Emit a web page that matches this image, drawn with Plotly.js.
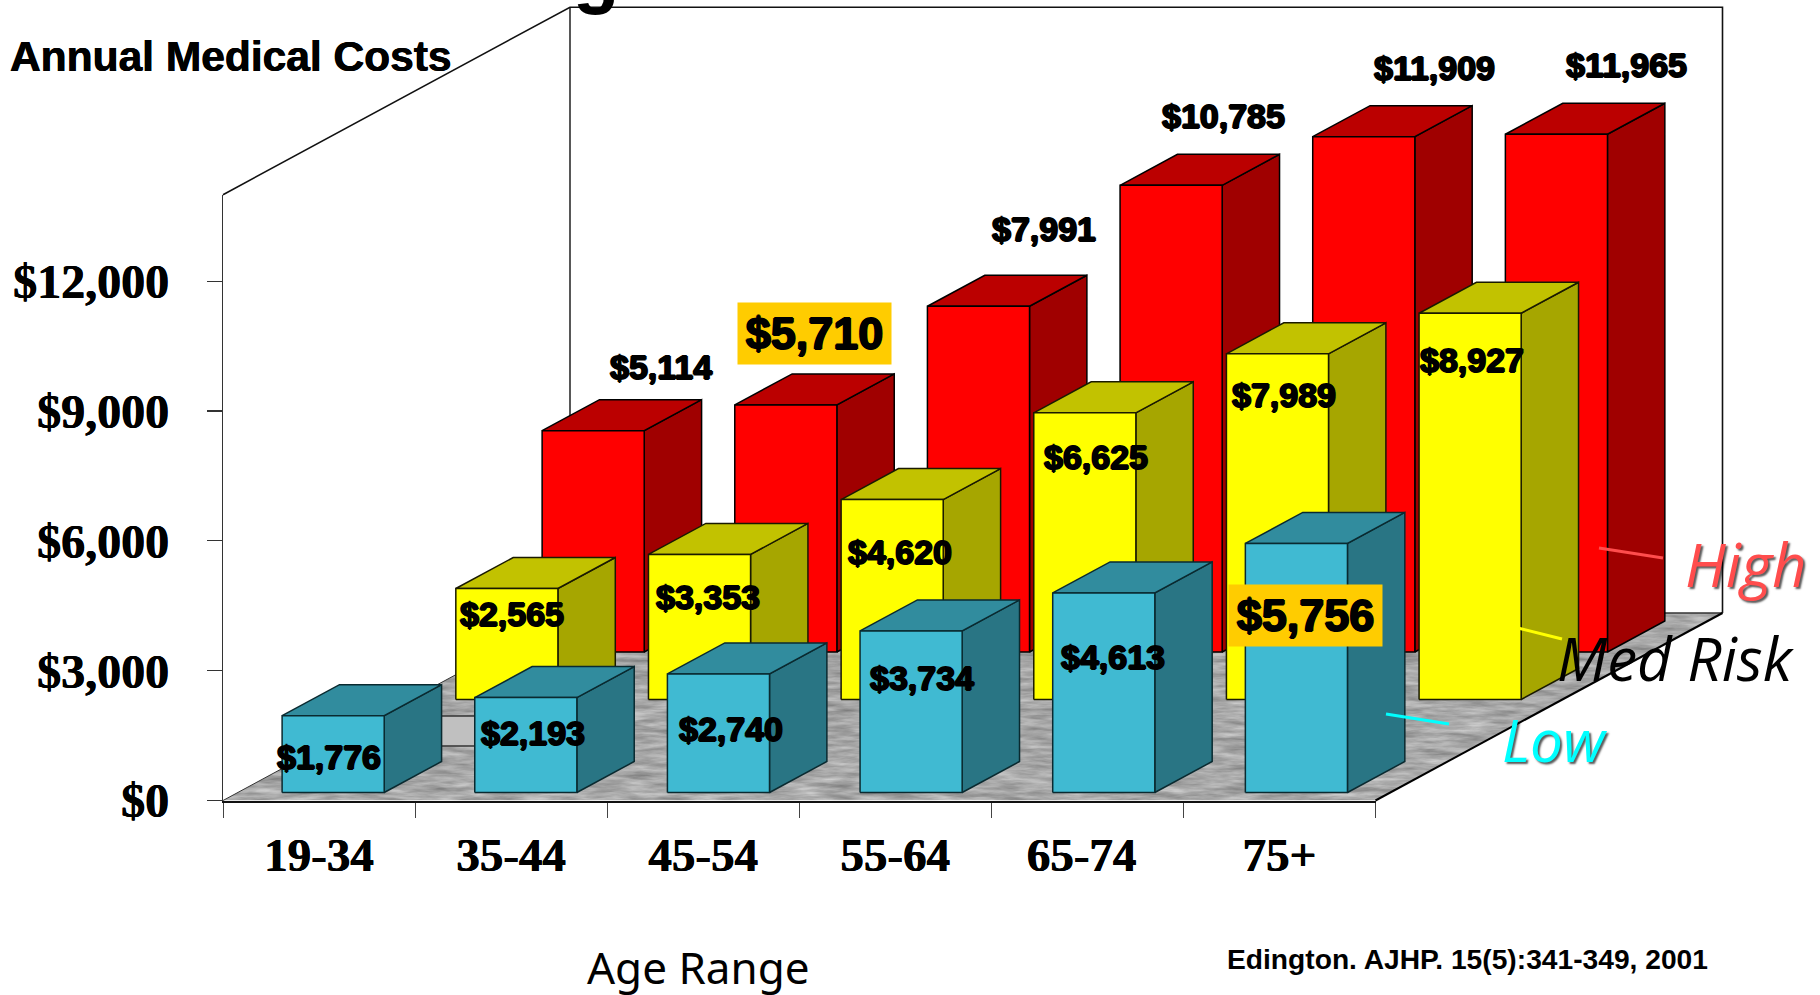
<!DOCTYPE html>
<html>
<head>
<meta charset="utf-8">
<script src="https://cdn.plot.ly/plotly-3.0.1.min.js"></script>
<style>html,body{margin:0;padding:0;background:#fff}#chart{width:1820px;height:995px}</style>
</head>
<body>
<div id="chart"></div>
<script>
// Annual medical costs by age range and health risk level
var categories = ['19-34', '35-44', '45-54', '55-64', '65-74', '75+'];
var lowRisk = [1776, 2193, 2740, 3734, 4613, 5756];
var medRisk = [2565, 3353, 4620, 6625, 7989, 8927];
var highRisk = [5114, 5710, 7991, 10785, 11909, 11965];
var yTicks = [0, 3000, 6000, 9000, 12000];

// Frame of the front of the chart on the page
var W = 1820, H = 995;
var left = 223, right = 1375.5, bottom = 800.5, top_ = 194.7;
var yMax = 14000;
var catPx = (right - left) / categories.length;
var valPx = (bottom - top_) / yMax;

// Oblique projection: depth 0 is the front of the floor, depth 1 the back wall
var depthPxX = 347;
var depthX = depthPxX / catPx;
var depthY = 187.5 / valPx;
function project(x, v, d) { return [x + d * depthX, v + d * depthY]; }

// Page pixel to axis units on the full-page axes that carry the marks
function unitX(px) { return (px - left) / catPx; }
function unitY(py) { return (bottom - py) / valPx; }

var barStart = 44.3 / catPx;
var barPitch = 192.65 / catPx;
var barWidth = 102.1 / catPx;
var barDepth = 31 / 187.5;

// Rows from back to front, with the shift of each value label from its bar's top
var rows = [
  { values: highRisk, depth: 148.5 / 187.5, nudge: 0,
    front: '#ff0000', top: '#bb0000', side: '#a00000', edge: '#000000',
    shifts: [[67, -64], [29, -71], [66, -77], [53, -69], [72, -69], [72, -69]] },
  { values: medRisk, depth: 101 / 187.5, nudge: 1.6 / catPx,
    front: '#ffff00', top: '#c2c200', side: '#a6a600', edge: '#1a1a00',
    shifts: [[6, 25], [10, 43], [10, 52], [14, 44], [10, 41], [6, 47]] },
  { values: lowRisk, depth: 8 / 187.5, nudge: 0,
    front: '#40bad2', top: '#318c9e', side: '#297584', edge: '#0a2a30',
    shifts: [[-5, 41], [7, 35], [13, 55], [12, 47], [11, 64], [11, 72]] }
];

var highlighted = { 5710: true, 5756: true };

// The visible axes need a trace of their own to be drawn
var traces = [{ type: 'scatter', mode: 'none', x: [0], y: [0], xaxis: 'x2', yaxis: 'y2', hoverinfo: 'skip', showlegend: false }];

function polygon(points, fill, edge, width) {
  traces.push({
    type: 'scatter', mode: 'lines', hoverinfo: 'skip', showlegend: false,
    x: points.map(function (p) { return p[0]; }),
    y: points.map(function (p) { return p[1]; }),
    fill: fill ? 'toself' : 'none', fillcolor: fill || undefined,
    line: { color: edge, width: width, simplify: false }
  });
}

// Walls and floor outline
polygon([project(0, yMax, 0), project(0, yMax, 1), project(6, yMax, 1), project(6, 0, 1)], null, '#111111', 1.6);
polygon([project(0, yMax, 1), project(0, 0, 1)], null, '#111111', 1.4);
polygon([project(0, 0, 1), project(6, 0, 1)], null, '#333333', 1.4);
polygon([project(0, 0, 0), project(0, 0, 1)], null, '#333333', 1);
polygon([project(6, 0, 0), project(6, 0, 1)], null, '#000000', 2);

function addBar(i, v, d, row) {
  var x0 = barStart + row.nudge + i * barPitch, x1 = x0 + barWidth, d1 = d + barDepth;
  polygon([project(x1, 0, d), project(x1, 0, d1), project(x1, v, d1), project(x1, v, d), project(x1, 0, d)], row.side, row.edge, 1.5);
  polygon([project(x0, v, d), project(x0, v, d1), project(x1, v, d1), project(x1, v, d), project(x0, v, d)], row.top, row.edge, 1.5);
  polygon([project(x0, 0, d), project(x1, 0, d), project(x1, v, d), project(x0, v, d), project(x0, 0, d)], row.front, row.edge, 1.5);
}

rows.forEach(function (row, r) {
  row.values.forEach(function (v, i) { addBar(i, v, row.depth, row); });
  if (r === 1) {
    // Pale slab on the floor between the two first low-risk bars
    var sx0 = unitX(430), sx1 = unitX(482), sy0 = unitY(716), sy1 = unitY(746);
    polygon([[sx0, sy0], [sx1, sy0], [sx1, sy1], [sx0, sy1], [sx0, sy0]], '#c0c0c0', '#333333', 1.4);
  }
});

// Value labels sit relative to the bars they describe
var annotations = [];
var outline = '1px 0 0 #000, -1px 0 0 #000, 0 1px 0 #000, 0 -1px 0 #000';

rows.forEach(function (row) {
  row.values.forEach(function (v, i) {
    var p = project(i + 0.5, v, row.depth);
    var big = highlighted[v];
    var ann = {
      xref: 'x', yref: 'y', x: p[0], y: p[1],
      xanchor: 'center', yanchor: 'middle',
      xshift: row.shifts[i][0], yshift: -row.shifts[i][1],
      text: '$' + v.toLocaleString('en-US'), showarrow: false,
      font: { family: 'Liberation Sans', size: big ? 45 : 34, weight: 700, color: '#000000', shadow: outline }
    };
    if (big) { ann.bgcolor = '#ffcc00'; ann.width = 153; ann.height = 61; ann.borderpad = 0; }
    annotations.push(ann);
  });
});

function pageText(text, px, py, font, yanchor) {
  annotations.push({
    xref: 'x', yref: 'y', x: unitX(px), y: unitY(py), xanchor: 'center', yanchor: yanchor || 'middle',
    text: text, showarrow: false, font: font
  });
}

var softShadow = '2px 2px 2px rgba(0,0,0,0.65)';
var thicken = '0.4px 0 0 #000, -0.4px 0 0 #000';
pageText('g', 596, 17, { family: 'Liberation Sans', size: 76, weight: 700, color: '#000000' }, 'bottom');
pageText('Annual Medical Costs', 231, 56, { family: 'Liberation Sans', size: 42.5, weight: 700, color: '#000000', shadow: thicken });
pageText('Age Range', 698, 967, { family: 'Noto Sans', size: 44, color: '#000000' });
pageText('Edington. AJHP. 15(5):341-349, 2001', 1467, 959, { family: 'Liberation Sans', size: 28.2, weight: 700, color: '#000000' });
pageText('High', 1746, 564, { family: 'Open Sans', size: 60, style: 'italic', color: '#ff4d4d', shadow: softShadow });
pageText('Med Risk', 1676, 658, { family: 'Open Sans', size: 60, style: 'italic', color: '#000000' });
pageText('Low', 1555, 739, { family: 'Open Sans', size: 58.5, style: 'italic', color: '#00ffff', shadow: softShadow });

// Leader lines from the series names to their bars
function leader(x0, y0, x1, y1, color) {
  return { type: 'line', xref: 'x', yref: 'y', layer: 'above',
    x0: unitX(x0), y0: unitY(y0), x1: unitX(x1), y1: unitY(y1), line: { color: color, width: 3 } };
}
var shapes = [
  leader(1599, 548, 1663, 558, '#ff4d4d'),
  leader(1518, 628, 1562, 639, '#ffff00'),
  leader(1386, 714, 1449, 724, '#00ffff')
];

// Mottled grey floor, built as an SVG with streaky noise clipped to the floor outline
var floorW = (right - left) + depthPxX, floorH = 187.5;
var floorSvg = '<svg xmlns="http://www.w3.org/2000/svg" width="' + floorW + '" height="' + floorH + '">' +
  '<defs><filter id="m" x="0" y="0" width="100%" height="100%" color-interpolation-filters="sRGB">' +
  '<feTurbulence type="fractalNoise" baseFrequency="0.03 0.2" numOctaves="4" seed="7"/>' +
  '<feColorMatrix type="matrix" values="0.4 0 0 0 0.46  0.4 0 0 0 0.46  0.4 0 0 0 0.46  0 0 0 0 1"/>' +
  '</filter>' +
  '<clipPath id="c"><polygon points="0,' + floorH + ' ' + (right - left) + ',' + floorH + ' ' + floorW + ',0 ' + depthPxX + ',0"/></clipPath></defs>' +
  '<g clip-path="url(#c)"><rect width="' + floorW + '" height="' + floorH + '" filter="url(#m)"/></g></svg>';

var layout = {
  width: W, height: H,
  margin: { l: 0, r: 0, t: 0, b: 0, pad: 0 },
  paper_bgcolor: '#ffffff', plot_bgcolor: 'rgba(0,0,0,0)',
  showlegend: false, dragmode: false,
  font: { family: 'Liberation Serif', color: '#000000' },
  // Full-page axes on the same scale as the visible ones, so depth can run past the frame
  xaxis: { domain: [0, 1], range: [unitX(0), unitX(W)], visible: false, fixedrange: true },
  yaxis: { domain: [0, 1], range: [unitY(H), unitY(0)], visible: false, fixedrange: true },
  xaxis2: {
    domain: [left / W, right / W], anchor: 'y2',
    range: [0, categories.length], fixedrange: true, zeroline: false, showgrid: false,
    showline: true, linecolor: '#111111', linewidth: 2.4,
    tickmode: 'array', tickvals: [0.5, 1.5, 2.5, 3.5, 4.47, 5.5], ticktext: categories,
    ticks: '', ticklabelstandoff: 12,
    tickfont: { family: 'Liberation Serif', size: 47, weight: 700, color: '#000000', shadow: thicken },
    minor: { ticks: 'outside', ticklen: 15, tickwidth: 1, tickcolor: '#444444', showgrid: false,
      tickmode: 'array', tickvals: categories.map(function (c, i) { return i; }).concat([categories.length]) }
  },
  yaxis2: {
    domain: [(H - bottom) / H, (H - top_) / H], anchor: 'x2',
    range: [0, yMax], fixedrange: true, zeroline: false, showgrid: false,
    showline: true, linecolor: '#333333', linewidth: 1.2,
    tickmode: 'array', tickvals: yTicks, ticktext: yTicks.map(function (v) { return '$' + v.toLocaleString('en-US'); }),
    ticks: 'outside', ticklen: 15, tickwidth: 1.2, tickcolor: '#333333', ticklabelstandoff: 28,
    tickfont: { family: 'Liberation Serif', size: 48, weight: 700, color: '#000000', shadow: thicken }
  },
  images: [{
    source: 'data:image/svg+xml;charset=utf-8,' + encodeURIComponent(floorSvg),
    xref: 'paper', yref: 'paper', x: left / W, y: (H - (bottom - floorH)) / H,
    sizex: floorW / W, sizey: floorH / H,
    xanchor: 'left', yanchor: 'top', sizing: 'stretch', layer: 'below'
  }],
  annotations: annotations,
  shapes: shapes
};

Plotly.newPlot('chart', traces, layout, { displayModeBar: false, staticPlot: true });
</script>
</body>
</html>
